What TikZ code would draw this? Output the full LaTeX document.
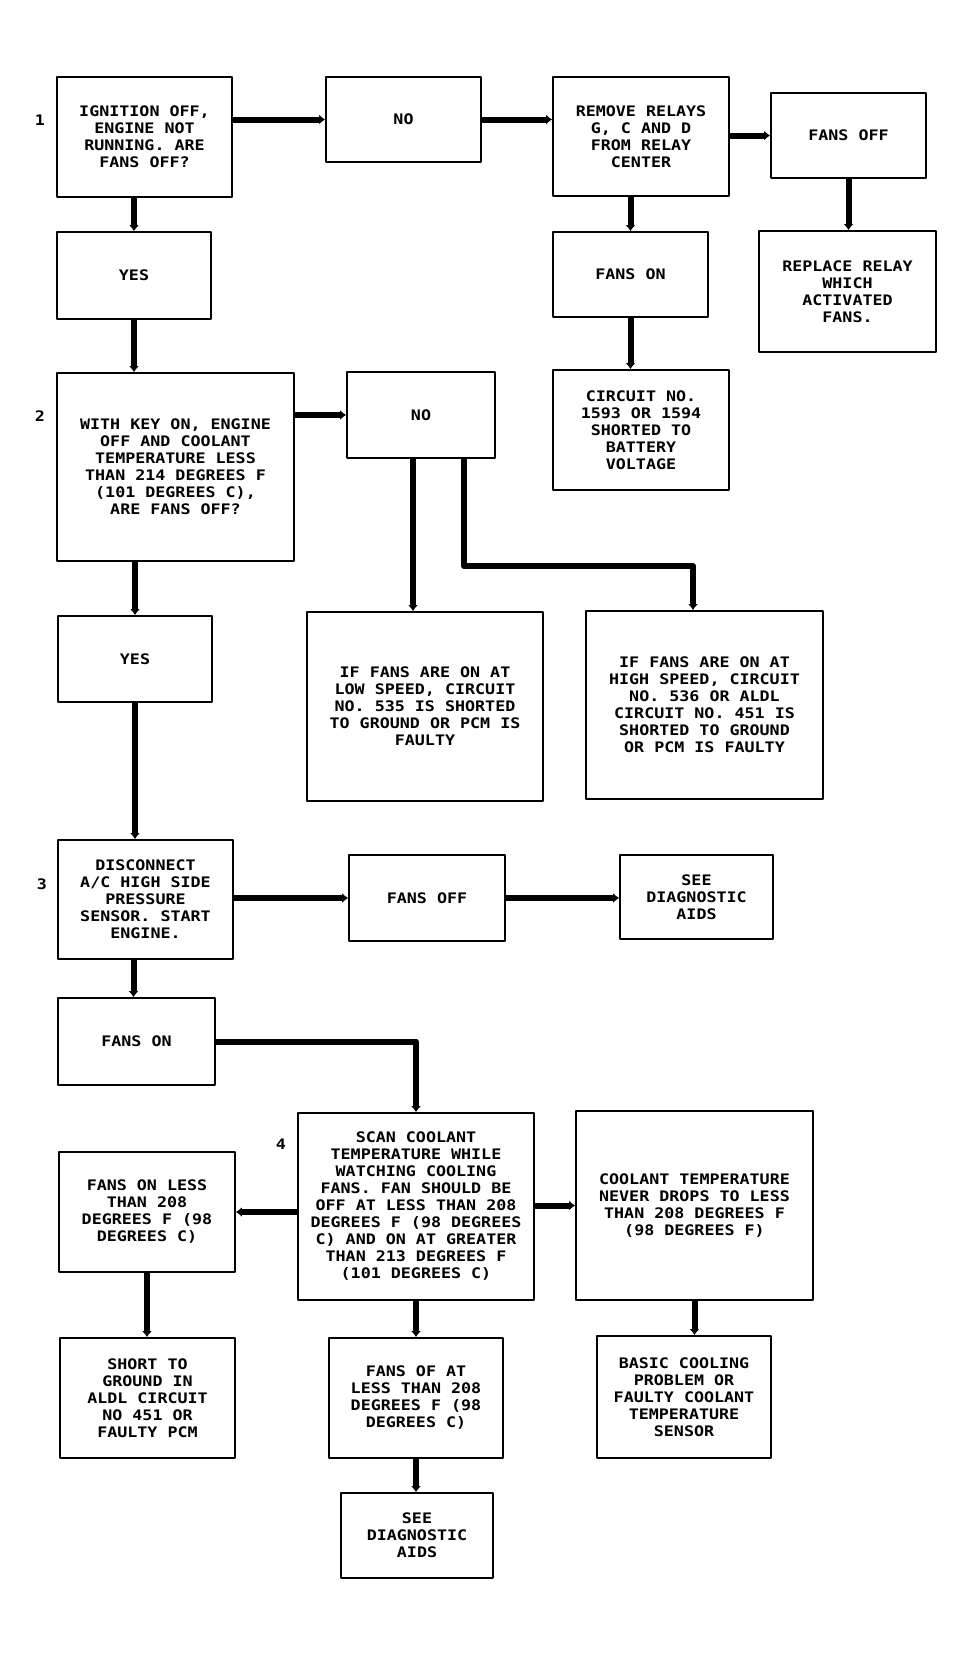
\documentclass[tikz,border=0pt]{standalone}
\usepackage{fontspec}
\newfontfamily\plotfont{DejaVu Sans Mono}[FakeStretch=1.15]
\usetikzlibrary{arrows.meta}
\begin{document}
\begin{tikzpicture}[x=1pt,y=-1pt,line join=round,>={Latex[length=6pt,width=10pt]},
  box/.style={draw,line width=1.8pt,inner sep=0pt,align=center,font=\plotfont\bfseries\fontsize{14.5}{17}\selectfont},
  stepno/.style={font=\plotfont\bfseries\fontsize{14.5}{17}\selectfont},
  flow/.style={line width=6pt,->}]
\useasboundingbox (0,0) rectangle (975,1655);

\node[box,minimum width=175pt,minimum height=120pt] (q1) at (144.5,137) {IGNITION OFF,\\ENGINE NOT\\RUNNING. ARE\\FANS OFF?};
\node[box,minimum width=155pt,minimum height=85pt] (no1) at (403.5,119.5) {NO};
\node[box,minimum width=176pt,minimum height=119pt] (relays) at (641,136.5) {REMOVE RELAYS\\G, C AND D\\FROM RELAY\\CENTER};
\node[box,minimum width=155pt,minimum height=85pt] (off1) at (848.5,135.5) {FANS OFF};
\node[box,minimum width=154pt,minimum height=87pt] (yes1) at (134,275.5) {YES};
\node[box,minimum width=155pt,minimum height=85pt] (on1) at (630.5,274.5) {FANS ON};
\node[box,minimum width=177pt,minimum height=121pt] (replace) at (847.5,291.5) {REPLACE RELAY\\WHICH\\ACTIVATED\\FANS.};
\node[box,minimum width=176pt,minimum height=120pt] (short1593) at (641,430) {CIRCUIT NO.\\1593 OR 1594\\SHORTED TO\\BATTERY\\VOLTAGE};
\node[box,minimum width=237pt,minimum height=188pt] (q2) at (175.5,467) {WITH KEY ON, ENGINE\\OFF AND COOLANT\\TEMPERATURE LESS\\THAN 214 DEGREES F\\(101 DEGREES C),\\ARE FANS OFF?};
\node[box,minimum width=148pt,minimum height=86pt] (no2) at (421,415) {NO};
\node[box,minimum width=154pt,minimum height=86pt] (yes2) at (135,659) {YES};
\node[box,minimum width=236pt,minimum height=189pt] (low) at (425,706.5) {IF FANS ARE ON AT\\LOW SPEED, CIRCUIT\\NO. 535 IS SHORTED\\TO GROUND OR PCM IS\\FAULTY};
\node[box,minimum width=237pt,minimum height=188pt] (high) at (704.5,705) {IF FANS ARE ON AT\\HIGH SPEED, CIRCUIT\\NO. 536 OR ALDL\\CIRCUIT NO. 451 IS\\SHORTED TO GROUND\\OR PCM IS FAULTY};
\node[box,minimum width=175pt,minimum height=119pt] (q3) at (145.5,899.5) {DISCONNECT\\A/C HIGH SIDE\\PRESSURE\\SENSOR. START\\ENGINE.};
\node[box,minimum width=156pt,minimum height=86pt] (off3) at (427,898) {FANS OFF};
\node[box,minimum width=153pt,minimum height=84pt] (diag1) at (696.5,897) {SEE\\DIAGNOSTIC\\AIDS};
\node[box,minimum width=157pt,minimum height=87pt] (on3) at (136.5,1041.5) {FANS ON};
\node[box,minimum width=236pt,minimum height=187pt] (q4) at (416,1206.5) {SCAN COOLANT\\TEMPERATURE WHILE\\WATCHING COOLING\\FANS. FAN SHOULD BE\\OFF AT LESS THAN 208\\DEGREES F (98 DEGREES\\C) AND ON AT GREATER\\THAN 213 DEGREES F\\(101 DEGREES C)};
\node[box,minimum width=176pt,minimum height=120pt] (onless) at (147,1212) {FANS ON LESS\\THAN 208\\DEGREES F (98\\DEGREES C)};
\node[box,minimum width=237pt,minimum height=189pt] (never) at (694.5,1205.5) {COOLANT TEMPERATURE\\NEVER DROPS TO LESS\\THAN 208 DEGREES F\\(98 DEGREES F)};
\node[box,minimum width=175pt,minimum height=120pt] (shortaldl) at (147.5,1398) {SHORT TO\\GROUND IN\\ALDL CIRCUIT\\NO 451 OR\\FAULTY PCM};
\node[box,minimum width=174pt,minimum height=120pt] (offat) at (416,1398) {FANS OF AT\\LESS THAN 208\\DEGREES F (98\\DEGREES C)};
\node[box,minimum width=152pt,minimum height=85pt] (diag2) at (417,1535.5) {SEE\\DIAGNOSTIC\\AIDS};
\node[box,minimum width=174pt,minimum height=122pt] (basic) at (684,1397) {BASIC COOLING\\PROBLEM OR\\FAULTY COOLANT\\TEMPERATURE\\SENSOR};

\node[stepno] (n1) at (40,120) {1};
\node[stepno] (n2) at (40,416) {2};
\node[stepno] (n3) at (42,884) {3};
\node[stepno] (n4) at (281,1144) {4};

\draw[flow] (q1.east |- no1.west) -- (no1.west);
\draw[flow] (no1.east) -- (no1.east -| relays.west);
\draw[flow] (relays.east |- off1.west) -- (off1.west);
\draw[flow] (off1.south) -- (off1.south |- replace.north);
\draw[flow] (on1.north |- relays.south) -- (on1.north);
\draw[flow] (on1.south) -- (on1.south |- short1593.north);
\draw[flow] (yes1.north |- q1.south) -- (yes1.north);
\draw[flow] (yes1.south) -- (yes1.south |- q2.north);
\draw[flow] (q2.east |- no2.west) -- (no2.west);
\draw[flow] (yes2.north |- q2.south) -- (yes2.north);
\draw[flow] ([xshift=-8pt]no2.south) -- ([xshift=-8pt]no2.south |- low.north);
\coordinate (bend) at (693,566);
\draw[flow] ([xshift=43pt]no2.south) |- (bend) -- (bend |- high.north);
\draw[flow] (yes2.south) -- (yes2.south |- q3.north);
\draw[flow] (q3.east |- off3.west) -- (off3.west);
\draw[flow] (off3.east) -- (off3.east -| diag1.west);
\draw[flow] ([xshift=-3pt]on3.north |- q3.south) -- ([xshift=-3pt]on3.north);
\draw[flow] (on3.east) -| (q4.north);
\draw[flow] (q4.west |- onless.east) -- (onless.east);
\draw[flow] (q4.east |- never.west) -- (never.west);
\draw[flow] (onless.south) -- (onless.south |- shortaldl.north);
\draw[flow] (offat.north |- q4.south) -- (offat.north);
\draw[flow] (offat.south) -- (offat.south |- diag2.north);
\draw[flow] (never.south) -- (never.south |- basic.north);
\end{tikzpicture}
\end{document}
